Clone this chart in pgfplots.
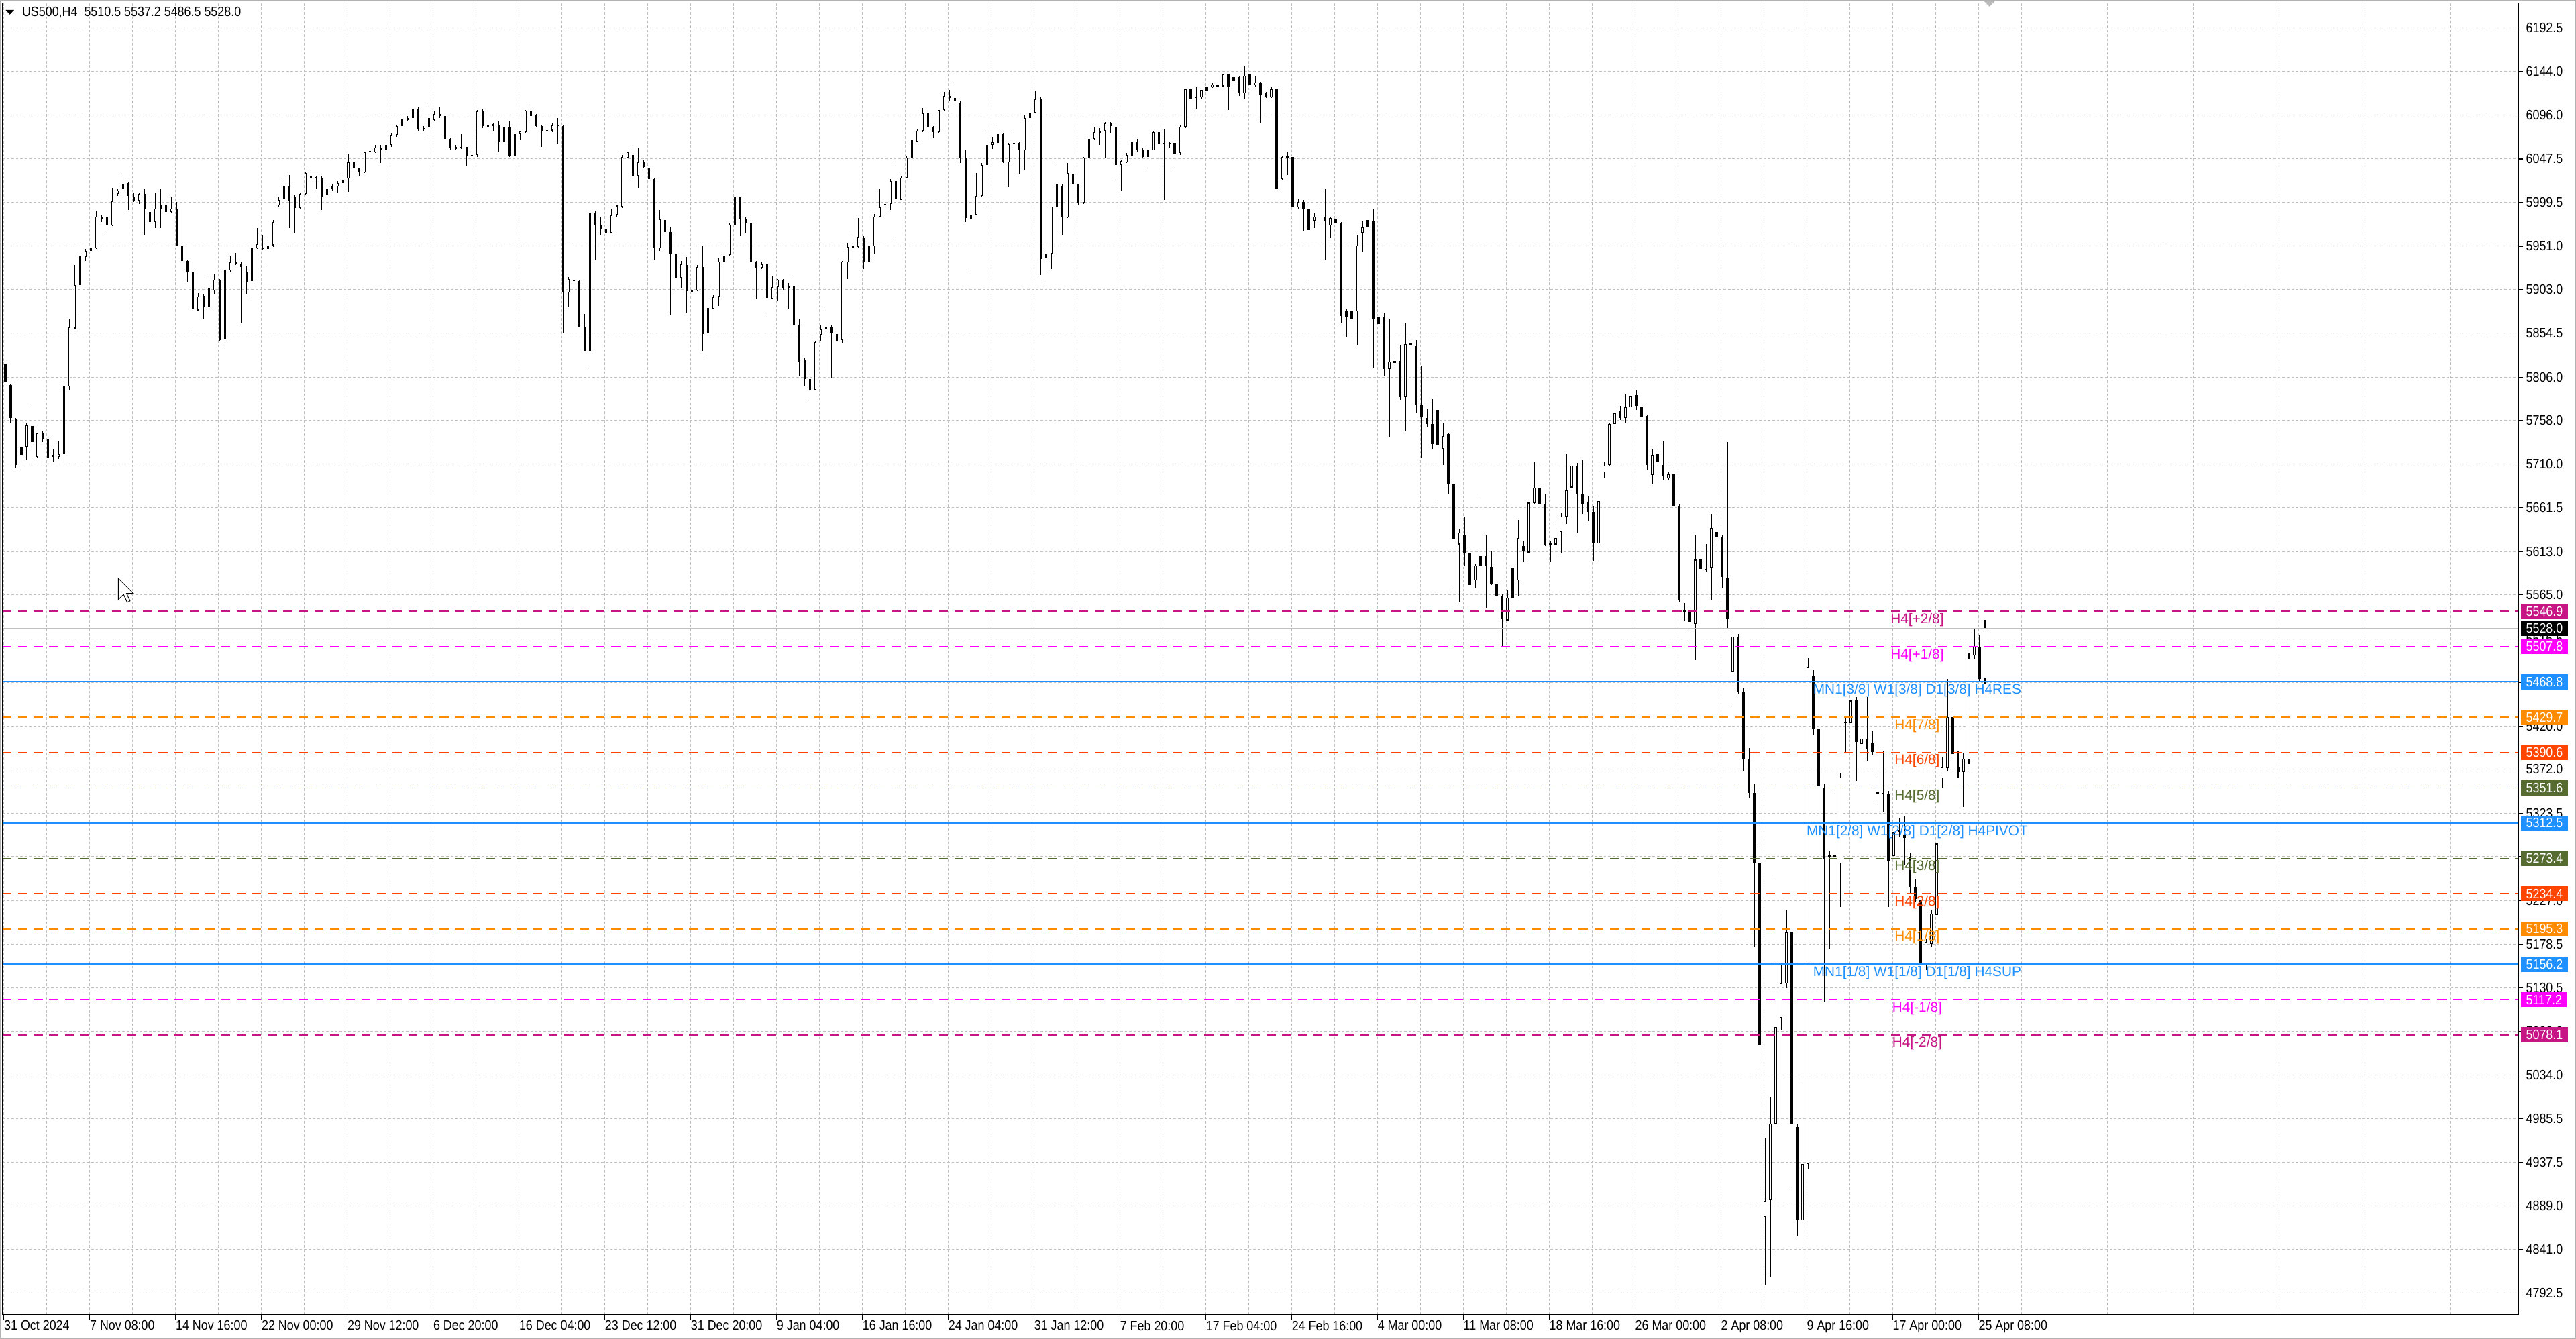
\documentclass[border=0pt]{standalone}
\usepackage{fontspec}
\setmainfont{Liberation Sans}
\newfontfamily\mtfont[FakeStretch=0.88]{Liberation Sans}
\usepackage{pgfplots}
\usepackage{pgfplotstable}
\pgfplotsset{compat=1.18}
\usetikzlibrary{backgrounds}

\definecolor{mvr}{HTML}{C71585}
\definecolor{mag}{HTML}{FF00FF}
\definecolor{dor}{HTML}{FF8C00}
\definecolor{ored}{HTML}{FF4500}
\definecolor{dolive}{HTML}{556B2F}
\definecolor{dblue}{HTML}{1E90FF}
\definecolor{gridc}{HTML}{C0C0C0}

\newcommand\tickf{\mtfont\fontsize{8.3}{9}\selectfont}
\newcommand\levf{\fontsize{8.5}{10}\selectfont}
% level helpers: coordinates inside the axis, text and price boxes after it
\newcommand\lev[2]{\coordinate (t#1) at (axis cs:713.2,#2); \coordinate (r#1) at (axis cs:937.3,#2);}
\newcommand\levtext[3]{\node[text=#2, font=\levf, inner sep=0pt] at ([yshift=-5.2pt]t#1) {#3};}
\newcommand\levbox[3]{\node[fill=#2, text=white, font=\tickf, anchor=west, inner xsep=3pt, inner ysep=0pt, minimum height=9.2pt] at ([xshift=1.5pt]r#1) {#3};}
% candles are drawn as error bars only, the marks are hidden
\pgfplotsset{candle/.style={only marks, mark=*, mark size=0pt, mark options={draw=none, fill=none},
    error bars/.cd, y dir=both, y explicit, error mark=none},
    level/.style={line width=0.65pt, dash pattern=on 5.5pt off 4pt}}

% US500 H4, two bars per candle: x o h l c
\pgfplotstableread{
x o h l c
0.5 5821 5823 5799 5801
2.5 5797 5799 5755 5761
4.5 5760 5761 5705 5709
6.5 5720 5730 5705 5729
8.5 5729 5755 5715 5753
10.5 5752 5777 5731 5734
12.5 5718 5744 5717 5744
14.5 5744 5746 5734 5737
16.5 5737 5738 5699 5717
18.5 5720 5727 5713 5718
20.5 5718 5735 5716 5721
22.5 5721 5798 5718 5796
24.5 5796 5871 5791 5861
26.5 5860 5930 5859 5908
28.5 5908 5943 5876 5941
30.5 5939 5948 5935 5946
32.5 5946 5950 5941 5949
34.5 5949 5990 5948 5984
36.5 5981 5986 5978 5983
38.5 5983 5985 5967 5974
40.5 5974 6016 5973 6001
42.5 6009 6015 6007 6013
44.5 6014 6031 6013 6020
46.5 6021 6022 5991 6007
48.5 6006 6010 6000 6001
50.5 6001 6010 5998 6009
52.5 6009 6015 5964 5992
54.5 5989 5990 5977 5978
56.5 5978 6010 5971 5993
58.5 5993 6014 5971 5996
60.5 5996 6000 5987 5989
62.5 5989 6005 5987 5993
64.5 5993 6000 5951 5952
66.5 5951 5952 5934 5935
68.5 5935 5936 5911 5923
70.5 5923 5925 5858 5881
72.5 5880 5899 5879 5895
74.5 5896 5898 5871 5884
76.5 5884 5917 5883 5904
78.5 5902 5920 5898 5914
80.5 5913 5915 5846 5847
82.5 5848 5925 5841 5924
84.5 5924 5940 5922 5933
86.5 5933 5944 5930 5931
88.5 5931 5933 5866 5928
90.5 5922 5929 5898 5912
92.5 5912 5950 5892 5949
94.5 5949 5971 5948 5953
96.5 5949 5963 5947 5948
98.5 5948 5958 5927 5952
100.5 5952 5980 5950 5978
102.5 5996 6005 5995 6002
104.5 6003 6022 6001 6017
106.5 6017 6030 5971 6001
108.5 6005 6008 5966 5993
110.5 5993 6010 5993 6009
112.5 6009 6033 6008 6032
114.5 6028 6037 6024 6026
116.5 6027 6028 6014 6027
118.5 6027 6028 5991 6006
120.5 6008 6017 6007 6015
122.5 6015 6019 6012 6017
124.5 6017 6023 6010 6021
126.5 6021 6028 6016 6024
128.5 6026 6053 6011 6044
130.5 6044 6046 6035 6037
132.5 6037 6038 6029 6033
134.5 6033 6056 6032 6055
136.5 6055 6063 6054 6056
138.5 6055 6063 6054 6060
140.5 6060 6063 6043 6057
142.5 6057 6065 6056 6063
144.5 6063 6076 6061 6074
146.5 6074 6085 6072 6084
148.5 6084 6098 6071 6092
150.5 6091 6095 6090 6093
152.5 6093 6105 6092 6103
154.5 6103 6105 6079 6080
156.5 6081 6084 6079 6081
158.5 6082 6108 6074 6093
160.5 6091 6100 6090 6097
162.5 6097 6105 6093 6095
164.5 6095 6097 6063 6070
166.5 6070 6071 6058 6060
168.5 6061 6063 6058 6059
170.5 6060 6075 6059 6061
172.5 6061 6061 6039 6051
174.5 6051 6053 6045 6052
176.5 6052 6102 6050 6100
178.5 6100 6103 6082 6084
180.5 6084 6090 6082 6084
182.5 6084 6087 6079 6086
184.5 6085 6090 6055 6067
186.5 6067 6084 6065 6083
188.5 6083 6090 6050 6051
190.5 6051 6076 6050 6075
192.5 6075 6079 6069 6078
194.5 6077 6102 6076 6101
196.5 6101 6108 6091 6095
198.5 6096 6097 6082 6084
200.5 6084 6085 6061 6079
202.5 6079 6082 6059 6079
204.5 6079 6087 6077 6085
206.5 6085 6093 6064 6084
208.5 6084 6085 5855 5900
210.5 5900 5917 5884 5915
212.5 5914 5954 5910 5912
214.5 5912 5913 5861 5862
216.5 5862 5876 5835 5835
218.5 5835 5999 5816 5987
220.5 5988 5990 5936 5975
222.5 5975 5983 5964 5970
224.5 5970 5972 5916 5966
226.5 5966 5993 5965 5985
228.5 5986 5997 5983 5996
230.5 5995 6052 5993 6050
232.5 6049 6056 6048 6055
234.5 6052 6059 6027 6028
236.5 6029 6060 6016 6044
238.5 6044 6047 6038 6039
240.5 6038 6040 6024 6025
242.5 6025 6026 5936 5949
244.5 5949 5991 5946 5981
246.5 5980 5982 5966 5967
248.5 5967 5972 5875 5943
250.5 5942 5944 5902 5916
252.5 5916 5935 5904 5931
254.5 5930 5939 5877 5901
256.5 5901 5902 5866 5902
258.5 5902 5930 5901 5928
260.5 5928 5951 5835 5854
262.5 5855 5885 5831 5883
264.5 5882 5897 5881 5895
266.5 5895 5938 5885 5934
268.5 5933 5953 5932 5941
270.5 5941 5976 5940 5975
272.5 5975 6026 5974 6005
274.5 6005 6006 5962 5981
276.5 5981 5983 5965 5977
278.5 5976 6003 5921 5933
280.5 5933 5935 5893 5927
282.5 5927 5933 5926 5931
284.5 5931 5933 5877 5894
286.5 5893 5918 5892 5906
288.5 5906 5915 5890 5914
290.5 5914 5915 5902 5905
292.5 5905 5910 5881 5907
294.5 5907 5920 5849 5864
296.5 5864 5870 5808 5823
298.5 5825 5827 5796 5804
300.5 5804 5812 5780 5792
302.5 5792 5846 5791 5845
304.5 5853 5864 5846 5859
306.5 5859 5883 5858 5861
308.5 5861 5864 5805 5855
310.5 5854 5856 5844 5846
312.5 5847 5935 5843 5934
314.5 5933 5955 5915 5950
316.5 5951 5965 5947 5949
318.5 5950 5982 5949 5961
320.5 5960 5962 5926 5933
322.5 5934 5953 5933 5951
324.5 5951 5987 5942 5984
326.5 5984 6014 5983 5994
328.5 5997 6002 5985 5998
330.5 5998 6025 5991 6023
332.5 6023 6044 5961 6003
334.5 6002 6029 6002 6027
336.5 6027 6051 6026 6049
338.5 6049 6069 6048 6068
340.5 6067 6080 6067 6079
342.5 6079 6104 6077 6098
344.5 6098 6100 6081 6082
346.5 6083 6084 6071 6077
348.5 6077 6102 6076 6102
350.5 6102 6122 6101 6117
352.5 6117 6124 6112 6115
354.5 6115 6132 6108 6112
356.5 6110 6112 6043 6049
358.5 6049 6057 5978 5982
360.5 5981 5986 5921 5986
362.5 5986 6032 5985 6007
364.5 6007 6043 6006 6041
366.5 6041 6079 5996 6063
368.5 6063 6072 6059 6066
370.5 6065 6084 6064 6075
372.5 6075 6076 6043 6044
374.5 6044 6065 6016 6064
376.5 6064 6076 6061 6065
378.5 6065 6066 6031 6057
380.5 6057 6096 6035 6093
382.5 6093 6099 6088 6099
384.5 6099 6123 6099 6114
386.5 6114 6116 5919 5937
388.5 5938 5945 5912 5943
390.5 5943 5995 5926 5995
392.5 5994 6040 5993 6019
394.5 6018 6020 5963 5984
396.5 5983 6043 5982 6032
398.5 6031 6033 6018 6020
400.5 6019 6020 5997 5999
402.5 5999 6050 5998 6049
404.5 6049 6072 6048 6070
406.5 6070 6083 6069 6077
408.5 6077 6082 6063 6078
410.5 6079 6088 6048 6087
412.5 6087 6088 6076 6084
414.5 6083 6102 6026 6041
416.5 6041 6046 6012 6045
418.5 6044 6054 6043 6052
420.5 6051 6075 6050 6067
422.5 6067 6070 6056 6057
424.5 6058 6060 6049 6050
426.5 6050 6058 6038 6058
428.5 6057 6078 6057 6077
430.5 6077 6080 6063 6064
432.5 6064 6080 6002 6065
434.5 6065 6067 6059 6065
436.5 6065 6070 6036 6053
438.5 6054 6085 6052 6083
440.5 6083 6125 6082 6125
442.5 6125 6127 6113 6114
444.5 6116 6127 6103 6116
446.5 6116 6124 6114 6124
448.5 6123 6130 6122 6127
450.5 6127 6132 6126 6130
452.5 6129 6130 6125 6128
454.5 6128 6142 6127 6141
456.5 6141 6142 6102 6128
458.5 6134 6141 6133 6138
460.5 6138 6139 6117 6120
462.5 6120 6151 6114 6140
464.5 6142 6144 6128 6129
466.5 6129 6140 6128 6132
468.5 6132 6133 6088 6118
470.5 6120 6122 6115 6116
472.5 6116 6127 6115 6125
474.5 6125 6128 6010 6015
476.5 6025 6051 6024 6050
478.5 6050 6055 6030 6050
480.5 6050 6051 5984 5994
482.5 5994 6004 5993 6000
484.5 6000 6002 5968 5992
486.5 5992 5997 5914 5969
488.5 5979 5988 5971 5984
490.5 5984 5996 5982 5983
492.5 5983 6014 5936 5979
494.5 5974 5983 5960 5982
496.5 5981 6005 5976 5977
498.5 5977 5978 5866 5874
500.5 5879 5882 5851 5872
502.5 5871 5891 5868 5879
504.5 5879 5964 5841 5952
506.5 5966 5979 5944 5972
508.5 5972 5996 5970 5980
510.5 5979 5992 5816 5870
512.5 5865 5877 5854 5873
514.5 5873 5877 5807 5815
516.5 5815 5871 5740 5823
518.5 5822 5830 5814 5824
520.5 5824 5841 5780 5784
522.5 5784 5866 5747 5843
524.5 5844 5851 5838 5841
526.5 5840 5847 5766 5776
528.5 5776 5818 5717 5762
530.5 5761 5771 5751 5754
532.5 5754 5782 5726 5732
534.5 5731 5787 5670 5770
536.5 5727 5755 5709 5741
538.5 5743 5745 5677 5688
540.5 5688 5690 5571 5627
542.5 5621 5638 5557 5634
544.5 5632 5651 5597 5611
546.5 5612 5614 5533 5576
548.5 5581 5600 5573 5598
550.5 5597 5674 5595 5608
552.5 5608 5631 5550 5597
554.5 5596 5614 5576 5578
556.5 5577 5610 5560 5564
558.5 5564 5566 5508 5538
560.5 5537 5571 5536 5562
562.5 5561 5598 5553 5595
564.5 5581 5648 5564 5628
566.5 5619 5624 5601 5613
568.5 5612 5669 5601 5667
570.5 5667 5712 5666 5684
572.5 5684 5688 5659 5665
574.5 5666 5677 5619 5620
576.5 5620 5624 5601 5622
578.5 5621 5642 5619 5628
580.5 5635 5656 5611 5652
582.5 5652 5721 5644 5681
584.5 5684 5709 5682 5708
586.5 5708 5711 5633 5676
588.5 5676 5715 5655 5666
590.5 5667 5675 5647 5657
592.5 5657 5664 5603 5622
594.5 5622 5673 5604 5669
596.5 5701 5712 5695 5708
598.5 5709 5756 5708 5754
600.5 5754 5778 5753 5766
602.5 5769 5774 5759 5761
604.5 5761 5788 5756 5773
606.5 5773 5790 5766 5785
608.5 5786 5791 5770 5774
610.5 5773 5788 5761 5762
612.5 5763 5764 5704 5709
614.5 5698 5727 5688 5720
616.5 5721 5729 5677 5712
618.5 5709 5735 5692 5697
620.5 5694 5701 5692 5699
622.5 5699 5703 5661 5663
624.5 5663 5666 5557 5560
626.5 5547 5556 5536 5547
628.5 5547 5550 5512 5535
630.5 5533 5632 5493 5604
632.5 5604 5608 5583 5594
634.5 5593 5621 5590 5594
636.5 5595 5655 5560 5639
638.5 5635 5655 5622 5629
640.5 5629 5632 5572 5585
642.5 5584 5734 5527 5538
644.5 5480 5523 5442 5519
646.5 5519 5522 5455 5458
648.5 5458 5462 5370 5383
650.5 5383 5396 5340 5346
652.5 5346 5356 5176 5268
654.5 5268 5286 5039 5067
656.5 4877 4964 4802 4894
658.5 4895 5009 4811 4980
660.5 4980 5252 4835 5087
662.5 5097 5155 5083 5135
664.5 5135 5216 5130 5192
666.5 5192 5273 4910 4980
668.5 4976 4980 4855 4873
670.5 4873 5027 4844 4935
672.5 4935 5495 4930 5485
674.5 5475 5482 5410 5417
676.5 5417 5420 5325 5353
678.5 5351 5356 5114 5273
680.5 5276 5282 5173 5276
682.5 5276 5346 5227 5276
684.5 5268 5368 5220 5363
686.5 5425 5430 5390 5423
688.5 5423 5451 5420 5448
690.5 5448 5452 5359 5402
692.5 5400 5410 5396 5406
694.5 5405 5452 5382 5394
696.5 5402 5415 5388 5391
698.5 5346 5363 5336 5346
700.5 5345 5393 5325 5345
702.5 5345 5348 5220 5270
704.5 5276 5310 5270 5303
706.5 5303 5318 5298 5305
708.5 5300 5320 5266 5296
710.5 5275 5280 5234 5242
712.5 5242 5250 5225 5229
714.5 5227 5237 5101 5155
716.5 5155 5185 5150 5181
718.5 5179 5216 5175 5212
720.5 5211 5307 5208 5290
722.5 5362 5385 5352 5374
724.5 5373 5472 5370 5430
726.5 5430 5436 5385 5389
728.5 5374 5392 5362 5369
730.5 5369 5390 5330 5384
732.5 5382 5500 5378 5495
734.5 5498 5528 5494 5508
736.5 5508 5521 5470 5472
738.5 5472 5537.2 5466 5528
}\candles

\begin{document}
\begin{tikzpicture}[x=1pt,y=1pt]
\begin{axis}[
    scale only axis, width=1531.5pt, height=798pt,
    xmin=-0.5, xmax=937.3,
    ymin=4768.9, ymax=6219.8,
    clip=false,
    axis line style={black, line width=0.45pt},
    tick align=outside,
    major tick length=3pt,
    minor tick length=0pt,
    major tick style={black, line width=0.45pt},
    xtick pos=left,
    ytick pos=right,
    yticklabel pos=right,
    xtick={0,32,...,736},
    minor xtick={16,48,...,912},
    xticklabels={31 Oct 2024,7 Nov 08:00,14 Nov 16:00,22 Nov 00:00,29 Nov 12:00,6 Dec 20:00,16 Dec 04:00,23 Dec 12:00,31 Dec 20:00,9 Jan 04:00,16 Jan 16:00,24 Jan 04:00,31 Jan 12:00,7 Feb 20:00,17 Feb 04:00,24 Feb 16:00,4 Mar 00:00,11 Mar 08:00,18 Mar 16:00,26 Mar 00:00,2 Apr 08:00,9 Apr 16:00,17 Apr 00:00,25 Apr 08:00},
    ytick={4792.5,4841,4889,4937.5,4985.5,5034,5082,5130.5,5178.5,5227,5275.5,5323.5,5372,5420,5468,5516.5,5565,5613,5661.5,5710,5758,5806,5854.5,5903,5951,5999.5,6047.5,6096,6144,6192.5},
    yticklabels={4792.5,4841.0,4889.0,4937.5,4985.5,5034.0,5082.0,5130.5,5178.5,5227.0,5275.5,5323.5,5372.0,5420.0,5468.0,5516.5,5565.0,5613.0,5661.5,5710.0,5758.0,5806.0,5854.5,5903.0,5951.0,5999.5,6047.5,6096.0,6144.0,6192.5},
    xticklabel style={anchor=north west, inner sep=0pt, font=\tickf, yshift=-0.6pt},
    yticklabel style={anchor=west, inner sep=0pt, font=\tickf, xshift=1.5pt},
    xmajorgrids, xminorgrids, ymajorgrids,
    major grid style={gridc, line width=0.4pt, dash pattern=on 1.5pt off 1.2pt},
    minor grid style={gridc, line width=0.4pt, dash pattern=on 1.5pt off 1.2pt},
]
% wicks
\addplot[candle, error bar style={black, line width=0.5pt}]
    table[x=x, y expr={(\thisrow{h}+\thisrow{l})/2}, y error expr={(\thisrow{h}-\thisrow{l})/2}] {\candles};
% bodies
\addplot[candle, error bar style={black, line width=1.5pt}]
    table[x=x, y expr={(\thisrow{o}+\thisrow{c})/2}, y error expr={max(abs(\thisrow{c}-\thisrow{o})/2,0.6)}] {\candles};
% hollow inside of the rising candles
\addplot[restrict expr to domain={\thisrow{c}-\thisrow{o}}{2.5:100000},
    candle, error bar style={white, line width=0.6pt}]
    table[x=x, y expr={(\thisrow{o}+\thisrow{c})/2}, y error expr={abs(\thisrow{c}-\thisrow{o})/2-0.82}] {\candles};

% current price
\addplot[gridc, line width=0.45pt] coordinates {(-0.5,5528.0) (937.3,5528.0)};
% murrey levels
\addplot[mvr, level] coordinates {(-0.5,5546.9) (937.3,5546.9)};
\addplot[mag, level] coordinates {(-0.5,5507.8) (937.3,5507.8)};
\addplot[dblue, line width=0.85pt] coordinates {(-0.5,5468.8) (937.3,5468.8)};
\addplot[dor, level] coordinates {(-0.5,5429.7) (937.3,5429.7)};
\addplot[ored, level] coordinates {(-0.5,5390.6) (937.3,5390.6)};
\addplot[dolive, level] coordinates {(-0.5,5351.6) (937.3,5351.6)};
\addplot[dblue, line width=0.85pt] coordinates {(-0.5,5312.5) (937.3,5312.5)};
\addplot[dolive, level] coordinates {(-0.5,5273.4) (937.3,5273.4)};
\addplot[ored, level] coordinates {(-0.5,5234.4) (937.3,5234.4)};
\addplot[dor, level] coordinates {(-0.5,5195.3) (937.3,5195.3)};
\addplot[dblue, line width=0.85pt] coordinates {(-0.5,5156.2) (937.3,5156.2)};
\addplot[mag, level] coordinates {(-0.5,5117.2) (937.3,5117.2)};
\addplot[mvr, level] coordinates {(-0.5,5078.1) (937.3,5078.1)};

\lev{1}{5546.9}\lev{2}{5507.8}\lev{3}{5468.8}\lev{4}{5429.7}\lev{5}{5390.6}
\lev{6}{5351.6}\lev{7}{5312.5}\lev{8}{5273.4}\lev{9}{5234.4}\lev{10}{5195.3}
\lev{11}{5156.2}\lev{12}{5117.2}\lev{13}{5078.1}\lev{0}{5528.0}
\coordinate (sw) at (rel axis cs:0,0);
\end{axis}

\levtext{1}{mvr}{H4[+2/8]}
\levtext{2}{mag}{H4[+1/8]}
\levtext{3}{dblue}{MN1[3/8] W1[3/8] D1[3/8] H4RES}
\levtext{4}{dor}{H4[7/8]}
\levtext{5}{ored}{H4[6/8]}
\levtext{6}{dolive}{H4[5/8]}
\levtext{7}{dblue}{MN1[2/8] W1[2/8] D1[2/8] H4PIVOT}
\levtext{8}{dolive}{H4[3/8]}
\levtext{9}{ored}{H4[2/8]}
\levtext{10}{dor}{H4[1/8]}
\levtext{11}{dblue}{MN1[1/8] W1[1/8] D1[1/8] H4SUP}
\levtext{12}{mag}{H4[-1/8]}
\levtext{13}{mvr}{H4[-2/8]}

\levbox{1}{mvr}{5546.9}
\levbox{0}{black}{5528.0}
\levbox{2}{mag}{5507.8}
\levbox{3}{dblue}{5468.8}
\levbox{4}{dor}{5429.7}
\levbox{5}{ored}{5390.6}
\levbox{6}{dolive}{5351.6}
\levbox{7}{dblue}{5312.5}
\levbox{8}{dolive}{5273.4}
\levbox{9}{ored}{5234.4}
\levbox{10}{dor}{5195.3}
\levbox{11}{dblue}{5156.2}
\levbox{12}{mag}{5117.2}
\levbox{13}{mvr}{5078.1}

% window elements, placed from the lower left corner of the plot area
\begin{scope}[shift={(sw)}, shift={(-1.5,-15)}]
\begin{scope}[on background layer]
\fill[white] (0,0) rectangle (1568,815);
\end{scope}
% header
\fill (3.4,808.9) -- (8.6,808.9) -- (6,806.1) -- cycle;
\node[anchor=west, inner sep=0pt, font=\tickf] at (13.3,807.4) {US500,H4\ \ 5510.5 5537.2 5486.5 5528.0};
% chart shift marker and mouse pointer
\fill[gray!55] (1207,815) -- (1215,815) -- (1211,811) -- cycle;
\draw[black, fill=white, line width=0.4pt, shift={(72,463)}] (0,0) -- (0,-13) -- (3.2,-9.8) -- (5.4,-14.6) -- (7.2,-13.8) -- (5.0,-9.2) -- (9.2,-9.2) -- cycle;
% window frame
\draw[gray!60, line width=0.6pt] (0.3,0.3) rectangle (1567.7,814.7);
\pgfresetboundingbox
\path[use as bounding box] (0,0) rectangle (1568,815);
\end{scope}
\end{tikzpicture}
\end{document}
